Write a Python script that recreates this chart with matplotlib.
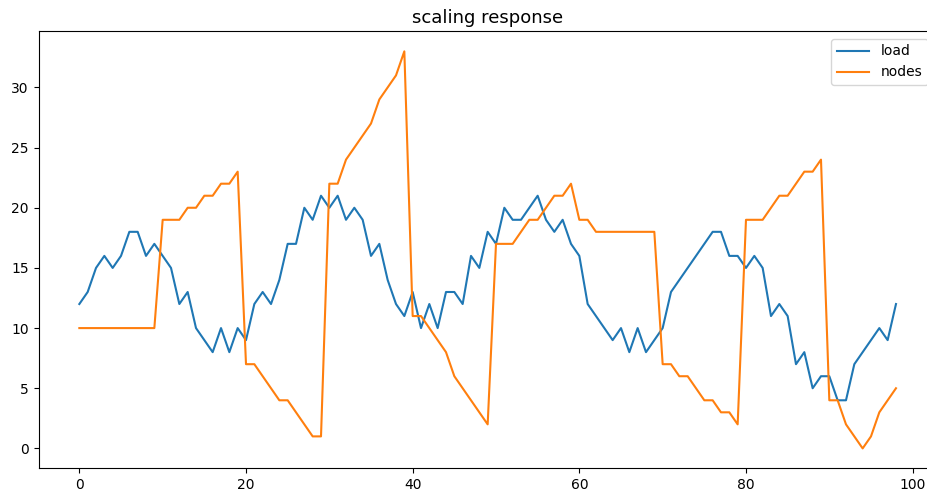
import matplotlib
matplotlib.use("Agg")
import matplotlib.pyplot as plt

# 読み取ったデータ
load = [12, 13, 15, 16, 15, 16, 18, 18, 16, 17,
        16, 15, 12, 13, 10, 9, 8, 10, 8, 10,
        9, 12, 13, 12, 14, 17, 17, 20, 19, 21,
        20, 21, 19, 20, 19, 16, 17, 14, 12, 11,
        13, 10, 12, 10, 13, 13, 12, 16, 15, 18,
        17, 20, 19, 19, 20, 21, 19, 18, 19, 17,
        16, 12, 11, 10, 9, 10, 8, 10, 8, 9,
        10, 13, 14, 15, 16, 17, 18, 18, 16, 16,
        15, 16, 15, 11, 12, 11, 7, 8, 5, 6,
        6, 4, 4, 7, 8, 9, 10, 9, 12]
nodes = [10, 10, 10, 10, 10, 10, 10, 10, 10, 10,
         19, 19, 19, 20, 20, 21, 21, 22, 22, 23,
         7, 7, 6, 5, 4, 4, 3, 2, 1, 1,
         22, 22, 24, 25, 26, 27, 29, 30, 31, 33,
         11, 11, 10, 9, 8, 6, 5, 4, 3, 2,
         17, 17, 17, 18, 19, 19, 20, 21, 21, 22,
         19, 19, 18, 18, 18, 18, 18, 18, 18, 18,
         7, 7, 6, 6, 5, 4, 4, 3, 3, 2,
         19, 19, 19, 20, 21, 21, 22, 23, 23, 24,
         4, 4, 2, 1, 0, 1, 3, 4, 5]

fig = plt.figure(figsize=(9.28, 4.95), dpi=100)
# 元画像は右端が切れているので軸を少しはみ出させる
ax = fig.add_axes([0.0415, 0.054, 0.968, 0.8824])
ax.plot(load, label="load")
ax.plot(nodes, label="nodes")
ax.set_title("scaling response", fontsize=13)
ax.legend(loc="upper right", handlelength=2.35, borderaxespad=0,
          bbox_to_anchor=(0.99, 0.983))
fig.savefig("out.png", dpi=100)
